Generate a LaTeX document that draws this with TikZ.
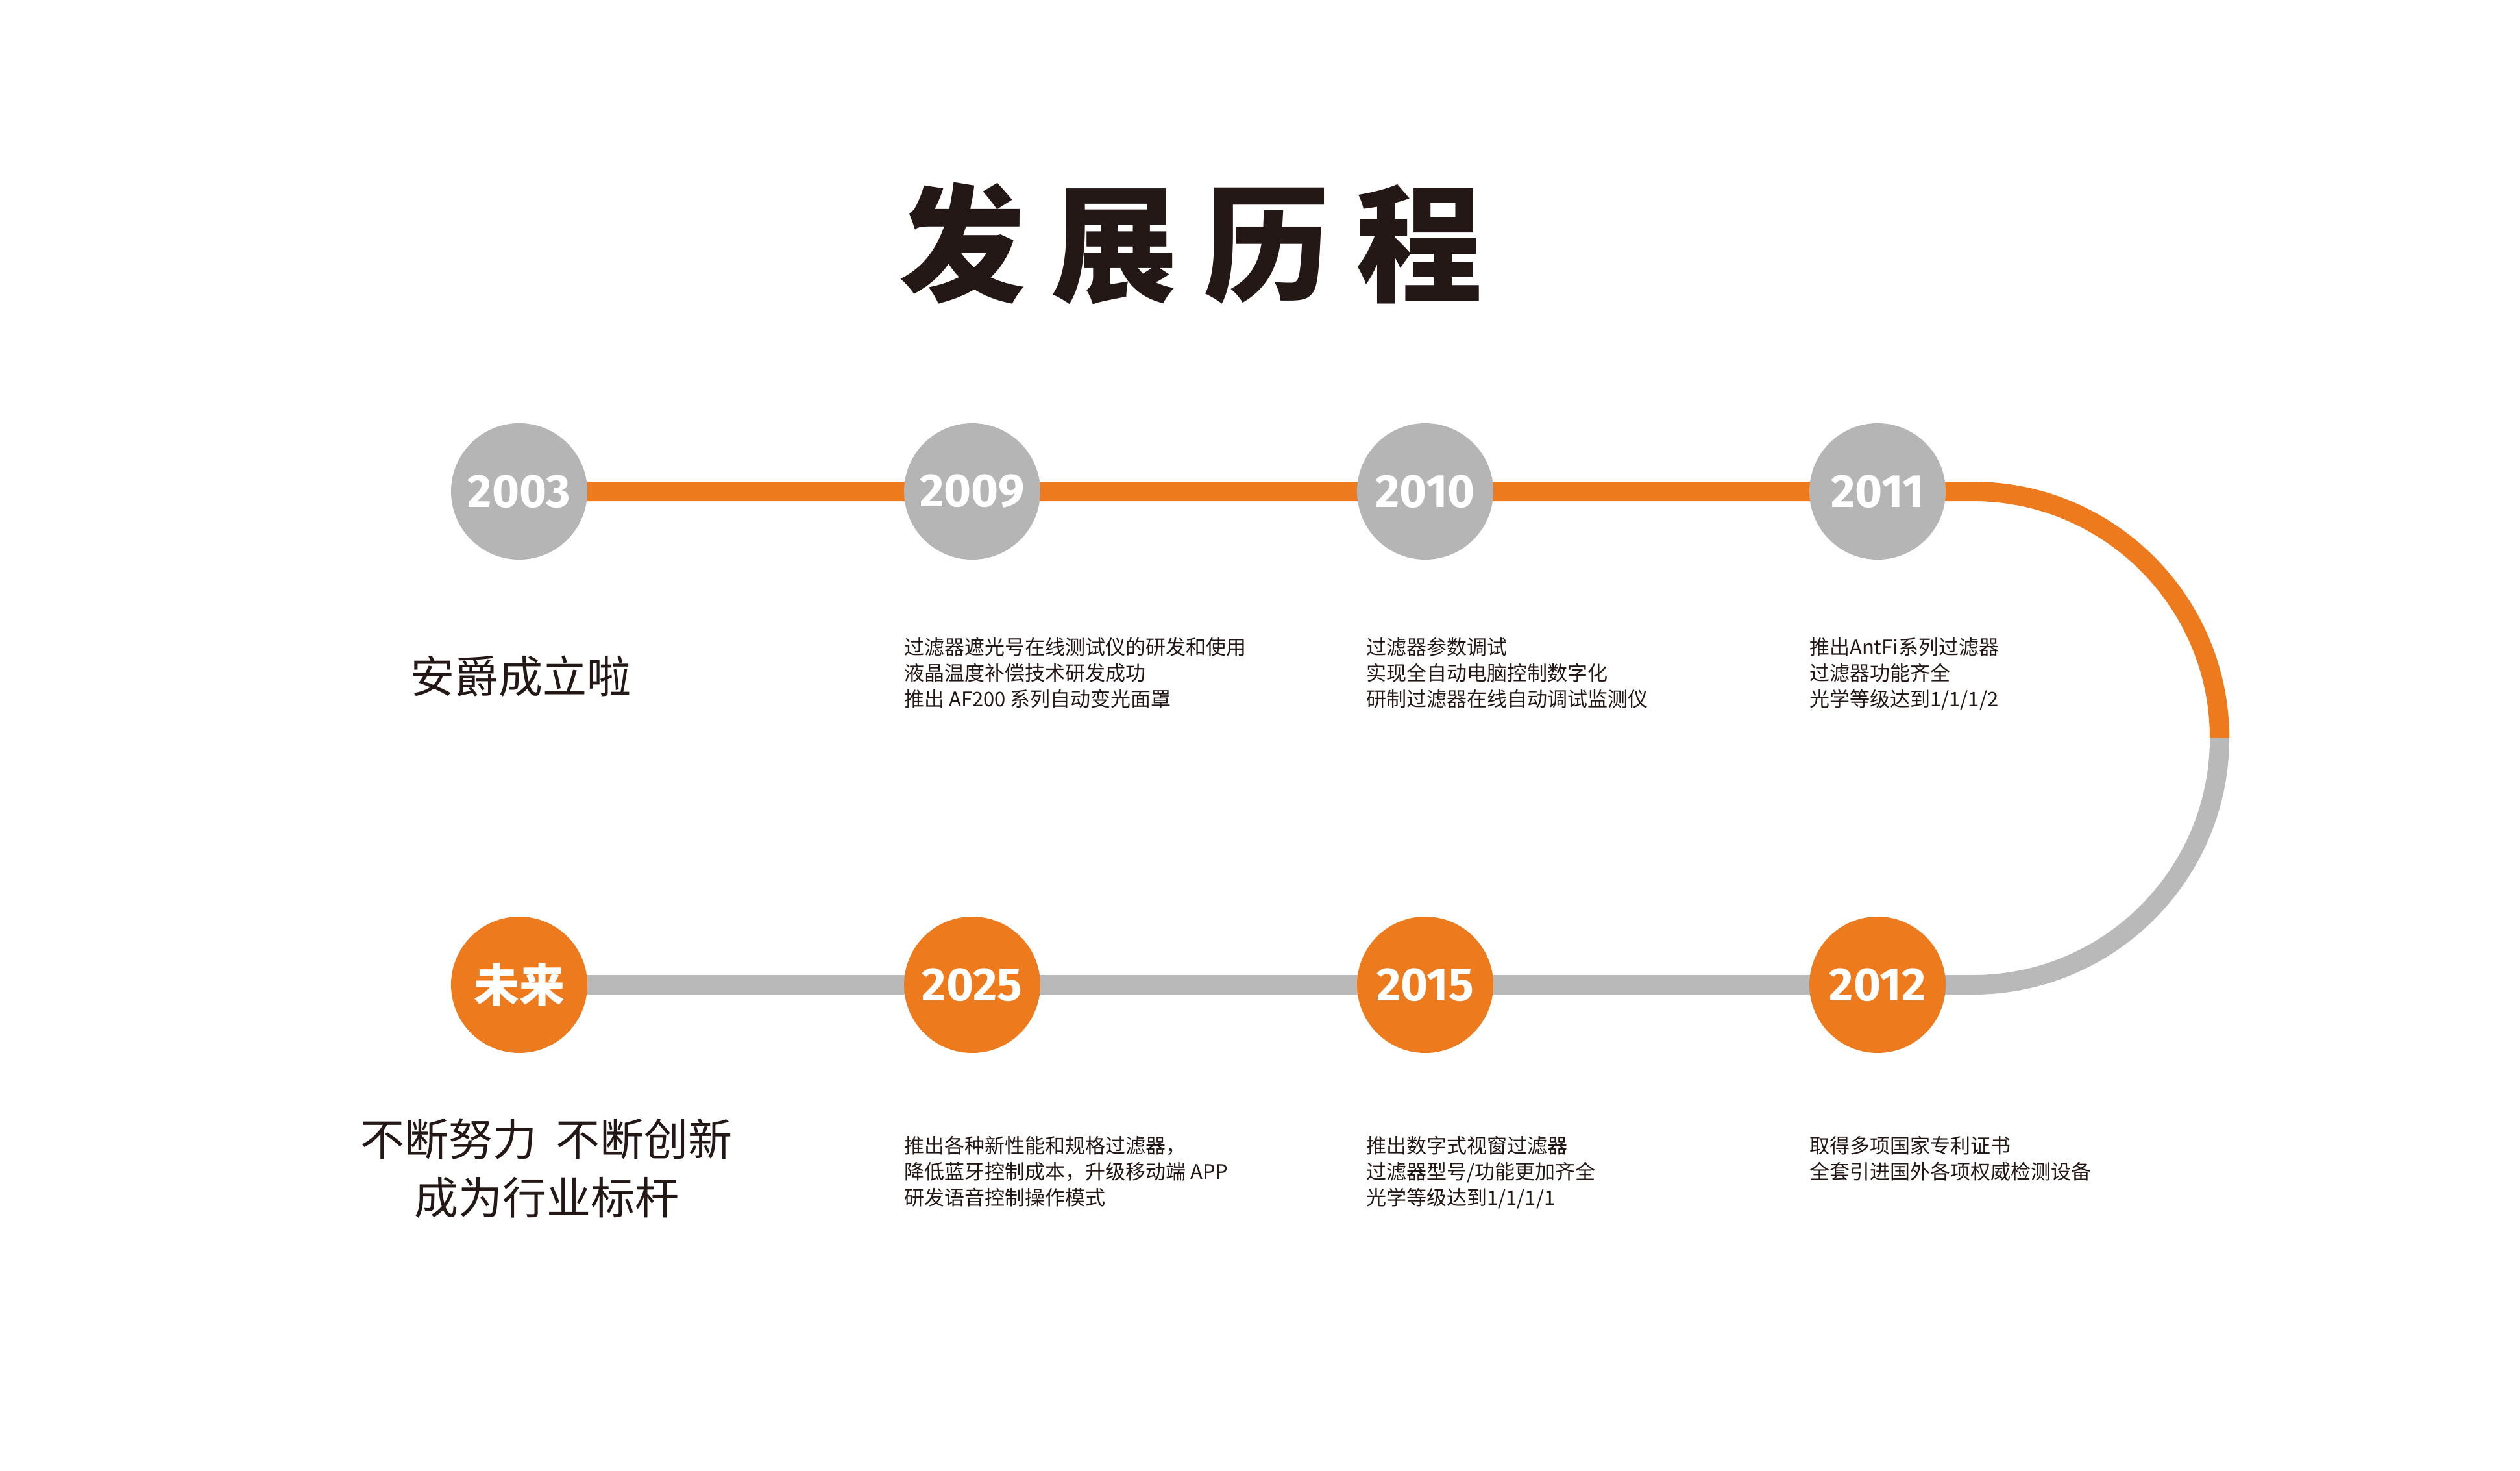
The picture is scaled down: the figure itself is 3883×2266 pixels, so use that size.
\documentclass[tikz,border=0pt]{standalone}
\usepackage{fontspec}
\newfontfamily\cjk{Noto Sans CJK SC}
\newfontfamily\yr{Fira Sans}
\definecolor{org}{HTML}{EE7A1E}
\definecolor{gcir}{HTML}{B5B5B5}
\definecolor{gline}{HTML}{B9B9B9}
\definecolor{txt}{HTML}{231815}
\begin{document}
\begin{tikzpicture}[x=1pt,y=-1pt,
  yearc/.style={circle,minimum size=210pt,inner sep=0pt,text=white,font=\yr\bfseries\fontsize{72}{72}\selectfont},
  gc/.style={yearc,fill=gcir},
  oc/.style={yearc,fill=org},
  small/.style={anchor=north west,align=left,inner sep=0pt,text=txt,font=\cjk\fontsize{31}{40}\selectfont},
  big/.style={align=center,inner sep=0pt,text=txt,font=\cjk\fontsize{68}{90}\selectfont}]
\useasboundingbox (0,0) rectangle (3883,2266);
\fill[white] (0,0) rectangle (3883,2266);
\node[text=txt,font=\cjk\bfseries\fontsize{195}{195}\selectfont] (title) at (1835,375) {发\hspace{40pt}展\hspace{40pt}历\hspace{40pt}程};
\coordinate (ta) at (3040,757);
\coordinate (ra) at (3420,1137);
\draw[org,line width=30pt] (800,757) -- (ta) arc[start angle=-90,end angle=0,radius=380];
\draw[gline,line width=30pt] (ra) arc[start angle=0,end angle=90,radius=380] -- (800,1517);
\node[gc] (a) at (800,757) {2003};
\node[gc] (b) at (1498,757) {2009};
\node[gc] (c) at (2196,757) {2010};
\node[gc] (d) at (2893,757) {2011};
\node[oc,font=\cjk\bfseries\fontsize{70}{70}\selectfont] (e) at (800,1517) {未来};
\node[oc] (f) at (1498,1517) {2025};
\node[oc] (g) at (2196,1517) {2015};
\node[oc] (h) at (2893,1517) {2012};
\node[big] (ta1) at (802,1042) {安爵成立啦};
\node[small] (t2) at (1393,982) {过滤器遮光号在线测试仪的研发和使用\\液晶温度补偿技术研发成功\\推出 AF200 系列自动变光面罩};
\node[small] (t3) at (2105,982) {过滤器参数调试\\实现全自动电脑控制数字化\\研制过滤器在线自动调试监测仪};
\node[small] (t4) at (2788,982) {推出AntFi系列过滤器\\过滤器功能齐全\\光学等级达到1/1/1/2};
\node[big] (tb1) at (842,1800) {不断努力\hspace{30pt}不断创新\\成为行业标杆};
\node[small] (t6) at (1393,1750) {推出各种新性能和规格过滤器，\\降低蓝牙控制成本，升级移动端 APP\\研发语音控制操作模式};
\node[small] (t7) at (2105,1750) {推出数字式视窗过滤器\\过滤器型号/功能更加齐全\\光学等级达到1/1/1/1};
\node[small] (t8) at (2788,1750) {取得多项国家专利证书\\全套引进国外各项权威检测设备};
\end{tikzpicture}
\end{document}
